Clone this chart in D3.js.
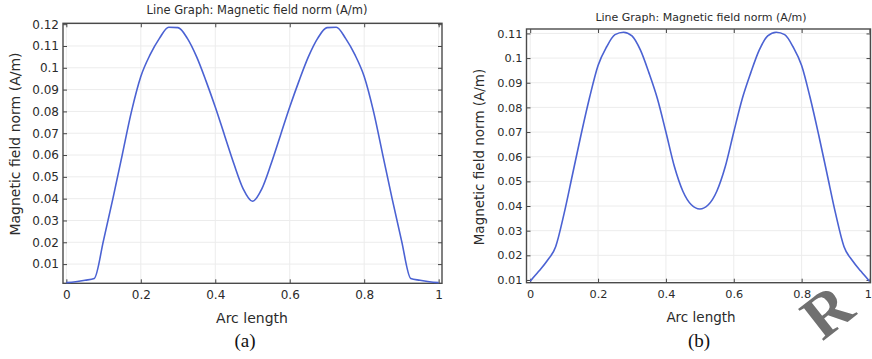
<!DOCTYPE html>
<html>
<head>
<meta charset="utf-8">
<script src="https://cdn.jsdelivr.net/npm/d3@7"></script>
<style>
  body { margin: 0; background: #fff; }
  svg { display: block; }
  .tick text { font-family: "DejaVu Sans", sans-serif; fill: #2b2b2b; }
  .tick line { stroke: #444; }
  .lbl { font-family: "DejaVu Sans", sans-serif; fill: #2b2b2b; }
</style>
</head>
<body>
<div id="chart"></div>
<script>
// arc length samples (same for both graphs)
const arcLength = [0, 0.025, 0.05, 0.075, 0.1, 0.125, 0.15, 0.175, 0.2, 0.225,
  0.25, 0.275, 0.3, 0.325, 0.35, 0.375, 0.4, 0.425, 0.45, 0.475,
  0.5, 0.525, 0.55, 0.575, 0.6, 0.625, 0.65, 0.675, 0.7, 0.725,
  0.75, 0.775, 0.8, 0.825, 0.85, 0.875, 0.9, 0.925, 0.95, 0.975, 1];

// (a) magnetic field norm
const fieldA = [0.0015, 0.0019, 0.0026, 0.0034, 0.021, 0.040, 0.060, 0.080, 0.096, 0.106,
  0.1135, 0.1186, 0.1184, 0.1135, 0.105, 0.094, 0.082, 0.069, 0.056, 0.0445,
  0.0388, 0.0445, 0.056, 0.069, 0.082, 0.094, 0.105, 0.1135, 0.1184, 0.1186,
  0.1135, 0.106, 0.096, 0.080, 0.060, 0.040, 0.021, 0.0034, 0.0026, 0.0019, 0.0015];

// (b) magnetic field norm
const fieldB = [0.0095, 0.0135, 0.0178, 0.0235, 0.037, 0.053, 0.069, 0.084, 0.097, 0.1045,
  0.1095, 0.1105, 0.109, 0.1032, 0.094, 0.0835, 0.070, 0.056, 0.046, 0.0405,
  0.0388, 0.0405, 0.046, 0.056, 0.070, 0.0835, 0.094, 0.1032, 0.109, 0.1105,
  0.1095, 0.1045, 0.097, 0.084, 0.069, 0.053, 0.037, 0.0235, 0.0178, 0.0135, 0.0095];

const xTicks = [0, 0.2, 0.4, 0.6, 0.8, 1];
const yTicksA = [0.01, 0.02, 0.03, 0.04, 0.05, 0.06, 0.07, 0.08, 0.09, 0.1, 0.11, 0.12];
const yTicksB = [0.01, 0.02, 0.03, 0.04, 0.05, 0.06, 0.07, 0.08, 0.09, 0.1, 0.11];

const titleText = 'Line Graph: Magnetic field norm (A/m)';
const xLabel = 'Arc length';
const yLabel = 'Magnetic field norm (A/m)';

const width = 872;
const height = 359;

const svg = d3.select('#chart')
  .append('svg')
  .attr('width', width)
  .attr('height', height);

function drawPanel(p) {
  const x = d3.scaleLinear().domain(p.xDomain).range([p.left, p.right]);
  const y = d3.scaleLinear().domain(p.yDomain).range([p.bottom, p.top]);
  const g = svg.append('g');

  // grid
  g.append('g').selectAll('line').data(xTicks).join('line')
    .attr('x1', d => x(d)).attr('x2', d => x(d))
    .attr('y1', p.top).attr('y2', p.bottom)
    .attr('stroke', '#ececec');
  g.append('g').selectAll('line').data(p.yTicks).join('line')
    .attr('x1', p.left).attr('x2', p.right)
    .attr('y1', d => y(d)).attr('y2', d => y(d))
    .attr('stroke', '#ececec');

  // axes, ticks pointing inward
  const bottom = g.append('g')
    .attr('transform', `translate(0,${p.bottom})`)
    .call(d3.axisBottom(x).tickValues(xTicks).tickFormat(d => d)
      .tickSizeInner(-4).tickSizeOuter(0).tickPadding(7));
  const left = g.append('g')
    .attr('transform', `translate(${p.left},0)`)
    .call(d3.axisLeft(y).tickValues(p.yTicks).tickFormat(d => d)
      .tickSizeInner(-4).tickSizeOuter(0).tickPadding(4));
  const top = g.append('g')
    .attr('transform', `translate(0,${p.top})`)
    .call(d3.axisTop(x).tickValues(xTicks).tickFormat('')
      .tickSizeInner(-4).tickSizeOuter(0));
  const right = g.append('g')
    .attr('transform', `translate(${p.right},0)`)
    .call(d3.axisRight(y).tickValues(p.yTicks).tickFormat('')
      .tickSizeInner(-4).tickSizeOuter(0));
  [bottom, left, top, right].forEach(a => a.select('.domain').remove());
  g.selectAll('.tick text').style('font-size', p.tickSize + 'px');
  // last x label sits at the page edge in (b)
  if (p.lastLabelEnd) {
    bottom.selectAll('.tick text').filter(d => d === 1).attr('text-anchor', 'end').attr('dx', 2);
  }

  // frame
  g.append('rect')
    .attr('x', p.left).attr('y', p.top)
    .attr('width', p.right - p.left).attr('height', p.bottom - p.top)
    .attr('fill', 'none').attr('stroke', '#4a4a4a').attr('stroke-width', 1.4);

  // the line
  const line = d3.line()
    .x((d, i) => x(arcLength[i]))
    .y(d => y(d))
    .curve(d3.curveMonotoneX);
  g.append('path')
    .attr('d', line(p.values))
    .attr('fill', 'none')
    .attr('stroke', '#4b62d3')
    .attr('stroke-width', 1.6);

  // texts
  g.append('text').attr('class', 'lbl')
    .attr('x', p.titleX).attr('y', p.titleY)
    .attr('text-anchor', 'middle').style('font-size', p.titleSize + 'px')
    .text(titleText);
  g.append('text').attr('class', 'lbl')
    .attr('x', p.xLabelX).attr('y', p.xLabelY)
    .attr('text-anchor', 'middle').style('font-size', p.labelSize + 'px')
    .text(xLabel);
  g.append('text').attr('class', 'lbl')
    .attr('transform', `translate(${p.yLabelX},${p.yLabelY}) rotate(-90)`)
    .attr('text-anchor', 'middle').style('font-size', p.labelSize + 'px')
    .text(yLabel);
  g.append('text')
    .attr('x', p.capX).attr('y', p.capY)
    .attr('text-anchor', 'middle')
    .style('font-family', '"Liberation Serif", "DejaVu Serif", serif')
    .style('font-size', '19px').attr('fill', '#111')
    .text(p.caption);
}

drawPanel({
  values: fieldA, yTicks: yTicksA, caption: '(a)',
  left: 63, right: 442, top: 23.3, bottom: 283.3,
  xDomain: [-0.009, 1.009], yDomain: [0.0012, 0.1204],
  tickSize: 12, titleSize: 11.5, labelSize: 14,
  titleX: 257, titleY: 14, xLabelX: 252, xLabelY: 323,
  yLabelX: 20, yLabelY: 144, capX: 245, capY: 347
});

drawPanel({
  values: fieldB, yTicks: yTicksB, caption: '(b)', lastLabelEnd: true,
  left: 526.5, right: 870.5, top: 29, bottom: 282.7,
  xDomain: [-0.0109, 1.003], yDomain: [0.0089, 0.1118],
  tickSize: 11.3, titleSize: 11, labelSize: 13.5,
  titleX: 701, titleY: 21, xLabelX: 701, xLabelY: 322,
  yLabelX: 484, yLabelY: 157, capX: 699, capY: 347
});

// watermark fragment in the corner
svg.append('text')
  .attr('transform', 'translate(840,328) rotate(-38)')
  .attr('text-anchor', 'middle')
  .style('font-family', '"Liberation Serif", serif')
  .style('font-weight', 'bold')
  .style('font-size', '62px')
  .attr('fill', '#707070')
  .text('R');
</script>
</body>
</html>
